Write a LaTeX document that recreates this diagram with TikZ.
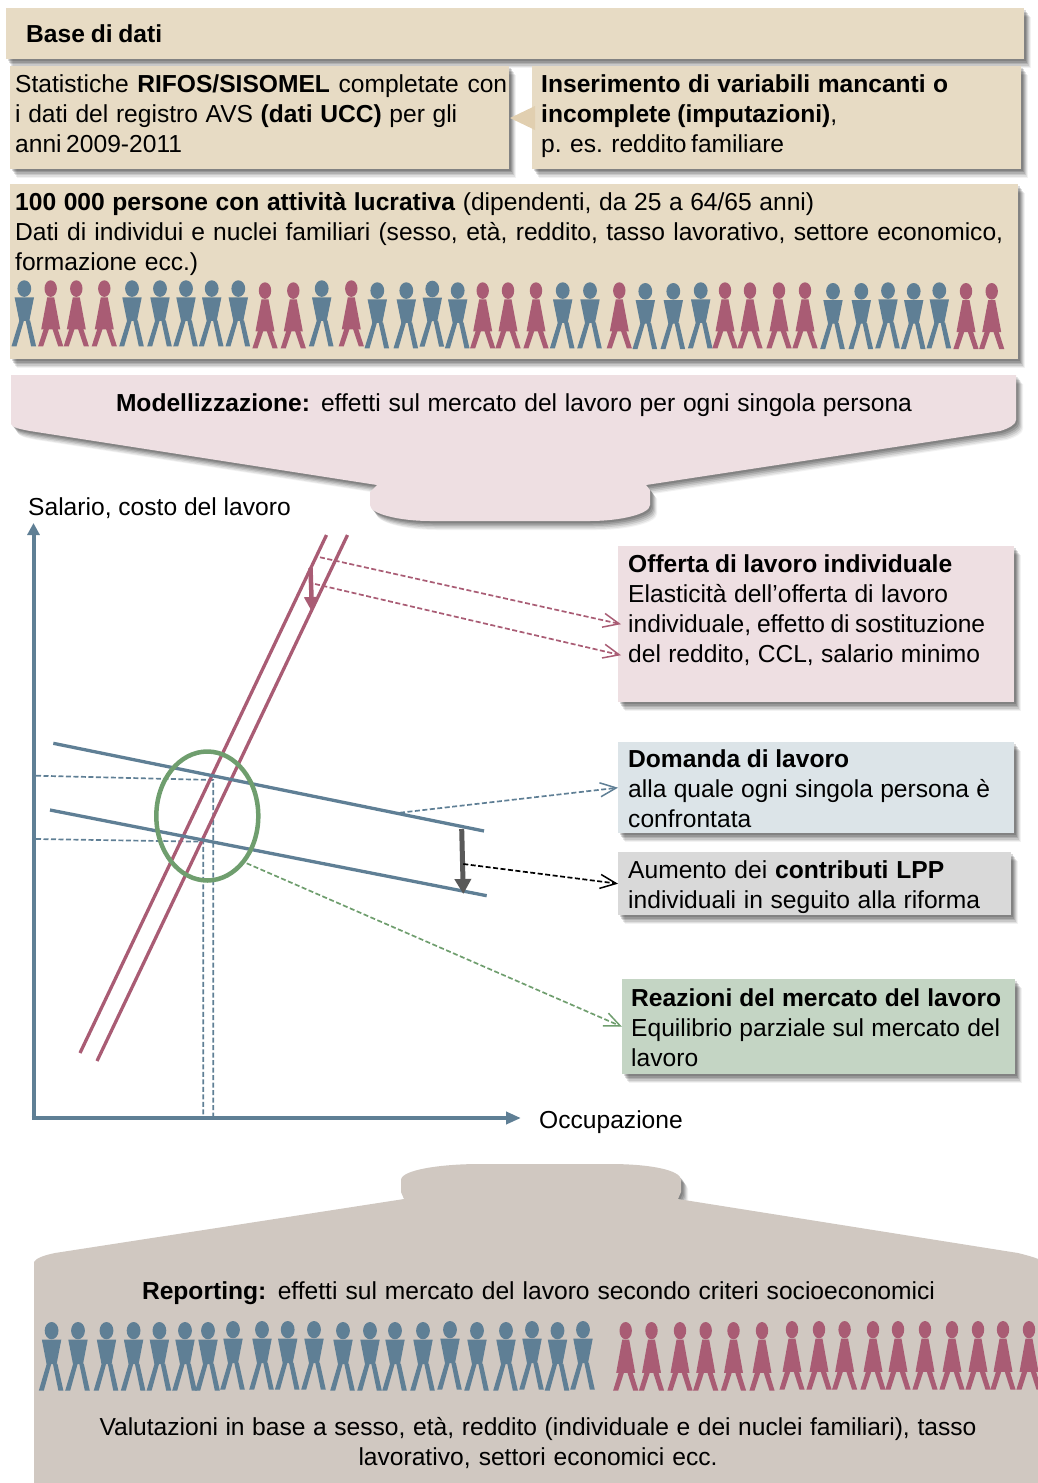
\documentclass[tikz,border=0pt]{standalone}
\usepackage{fontspec}
\setmainfont{Liberation Sans}
\usetikzlibrary{calc,shadows,arrows.meta}
\definecolor{tanfill}{HTML}{E7DBC4}
\definecolor{tandark}{HTML}{E1CFB0}
\definecolor{pinkfill}{HTML}{EEDFE2}
\definecolor{bluefill}{HTML}{DCE4E8}
\definecolor{greyfill}{HTML}{D9D9D9}
\definecolor{greenfill}{HTML}{C4D5C4}
\definecolor{brownfill}{HTML}{D0C8C1}
\definecolor{manblue}{HTML}{5F7F95}
\definecolor{womanred}{HTML}{A95C74}
\definecolor{ringgreen}{HTML}{6F9E6E}
\tikzset{
	softshadow/.style={
		general shadow={shadow xshift=7pt,shadow yshift=-9pt,opacity=.05,fill=black},
		general shadow={shadow xshift=6pt,shadow yshift=-8pt,opacity=.08,fill=black},
		general shadow={shadow xshift=5pt,shadow yshift=-6.5pt,opacity=.10,fill=black},
		general shadow={shadow xshift=4pt,shadow yshift=-5pt,opacity=.12,fill=black},
		general shadow={shadow xshift=3pt,shadow yshift=-3.5pt,opacity=.14,fill=black},
		general shadow={shadow xshift=1.5pt,shadow yshift=-2pt,opacity=.14,fill=black}},
	boxnode/.style={softshadow,anchor=north west,inner sep=0pt},
	txt/.style={anchor=north west,inner sep=0pt,align=left,font=\fontsize{24.6}{30}\selectfont},
	txtc/.style={txt,anchor=center,align=center},
	curve/.style={line width=3.3pt},
	hint/.style={line width=1.7pt,dash pattern=on 5pt off 2.5pt},
	barb/.style={-{Straight Barb[length=16pt,width=14pt,line width=1.5pt]}}
}
% one printed line, set to the width it has in the source
\def\fitline#1#2{\makebox[#1pt][s]{#2}}
\def\manfig(#1,#2)#3{
	\begin{scope}[shift={(#1,#2)},yscale=#3]
		\fill[manblue] (0,8.3) ellipse (6.9 and 8.3);
		\fill[manblue] (-9.7,17) -- (9.7,17) -- (5,40.5) -- (-5,40.5) -- cycle;
		\fill[manblue] (-4.8,40) -- (-0.3,40) -- (-7.8,66) -- (-12.8,66) -- cycle;
		\fill[manblue] (1.3,40) -- (5.8,40) -- (11.8,66) -- (6.8,66) -- cycle;
	\end{scope}
}
\def\womanfig(#1,#2)#3{
	\begin{scope}[shift={(#1,#2)},yscale=#3]
		\fill[womanred] (0,8.3) ellipse (6.2 and 8.3);
		\fill[womanred] (-3.5,17) -- (3.5,17) -- (9.5,49) -- (-9.5,49) -- cycle;
		\fill[womanred] (-6.8,48) -- (-1.5,48) -- (-7.5,66) -- (-12.6,66) -- cycle;
		\fill[womanred] (1.5,48) -- (6.8,48) -- (12.6,66) -- (7.5,66) -- cycle;
	\end{scope}
}

\begin{document}
\begin{tikzpicture}[x=1pt,y=-1pt]
	\useasboundingbox (0,0) rectangle (1037,1483);

	%%%%% top boxes %%%%%
	\node[boxnode,fill=tanfill,minimum width=1018pt,minimum height=51pt] (base) at (6,8) {};
	\node[boxnode,fill=tanfill,minimum width=499pt,minimum height=103pt] (stat) at (10,65.5) {};
	\node[boxnode,fill=tanfill,minimum width=489pt,minimum height=103pt] (impute) at (532,65.5) {};
	\node[boxnode,fill=tanfill,minimum width=1008pt,minimum height=175pt] (people) at (10,184) {};
	\fill[tandark] (510,118) -- (535,106) -- (535,130) -- cycle;

	\node[txt] (baseText) at (26,24.5) {\fitline{136}{\textbf{Base di dati}}};
	\node[txt] (statText) at (15,74.7) {\fitline{492}{Statistiche \textbf{RIFOS/SISOMEL} completate con}\\\fitline{442}{i dati del registro AVS \textbf{(dati UCC)} per gli}\\\fitline{165}{anni 2009-2011}};
	\node[txt] (imputeText) at (541,74.7) {\fitline{407}{\textbf{Inserimento di variabili mancanti o}}\\\fitline{296}{\textbf{incomplete (imputazioni)},}\\\fitline{243}{p. es. reddito familiare}};
	\node[txt] (peopleText) at (15,192.7) {\fitline{799}{\textbf{100 000 persone con attività lucrativa} (dipendenti, da 25 a 64/65 anni)}\\\fitline{988}{Dati di individui e nuclei familiari (sesso, età, reddito, tasso lavorativo, settore economico,}\\\fitline{183}{formazione ecc.)}};

	\foreach \px/\py in {24.3/280.3,132/280.3,160/280.3,186/280.3,211.7/280.3,238.3/280.3,321.7/280.3,377.3/282.3,406.3/282.3,432.3/280.7,457.7/282.3,562.7/282.3,590/282.3,645.3/283,673.3/283,700.7/282.3,833/283,861.3/283,888/282.3,913.7/283,939.3/282.3}
		{\manfig(\px,\py){1}}
	\foreach \px/\py in {50.7/280.3,76.3/280.3,104.3/280.3,265/282.3,293.3/282.3,351.3/280.3,482.7/282.3,508/282.3,536/282.3,619.3/282.3,725/282.3,750/282.3,779/282.3,805/282.3,966/283,991.7/283}
		{\womanfig(\px,\py){1}}

	%%%%% modelling callout %%%%%
	\path[fill=pinkfill,softshadow] (11,375) -- (1016,375) -- (1016,420) .. controls (1016,424) and (1010,428) .. (1000,431) -- (646,485) -- (650,490) -- (650,505) .. controls (650,514) and (620,521) .. (590,521) -- (430,521) .. controls (400,521) and (370,514) .. (370,505) -- (370,492) -- (377,485) -- (30,431) .. controls (20,429) and (13,428) .. (11,424) -- cycle;
	\node[txtc] (modelText) at (514,405.5) {\fitline{796}{\textbf{Modellizzazione:} effetti sul mercato del lavoro per ogni singola persona}};

	%%%%% chart %%%%%
	\node[txt] (wageText) at (28,497) {Salario, costo del lavoro};
	\node[txt] (jobsText) at (539,1110) {Occupazione};
	\coordinate (origin) at (33.5,1118);
	\coordinate (wageEnd) at (33.5,523);
	\coordinate (jobsEnd) at (521,1118);
	\draw[manblue,line width=4pt,-{Triangle[length=12pt,width=12pt]}] (origin) -- (wageEnd);
	\draw[manblue,line width=4pt,-{Triangle[length=15pt,width=12pt]}] ([xshift=-2pt]origin) -- (jobsEnd);

	\coordinate (wageA) at (36,775.7);
	\coordinate (wageB) at (36,839);
	\coordinate (crossA) at (213.3,780);
	\coordinate (crossB) at (203.3,841.7);
	\coordinate (floorA) at (213.3,1116);
	\coordinate (floorB) at (203.3,1116);
	\draw[manblue,hint] (wageA) -- (crossA) -- (floorA);
	\draw[manblue,hint] (wageB) -- (crossB) -- (floorB);

	\draw[womanred,curve] (326.5,535) -- (80,1053);
	\draw[womanred,curve] (347.5,535) -- (97,1061);
	\draw[manblue,curve] (53.3,743.3) -- (484,831);
	\draw[manblue,curve] (50,810) -- (486.7,895.7);
	\draw[ringgreen,line width=4.5pt] (207.3,816) ellipse (51 and 64.5);

	\draw[womanred,line width=4.5pt,-{Triangle[length=15pt,width=14pt]}] (310.5,568) -- (312,612);
	\draw[black!65,line width=5pt,-{Triangle[length=15pt,width=16pt]}] (461.7,829) -- (463.3,894);

	%%%%% note boxes %%%%%
	\node[boxnode,fill=pinkfill,minimum width=396pt,minimum height=156pt] (offer) at (618,546) {};
	\node[boxnode,fill=bluefill,minimum width=396pt,minimum height=91pt] (demand) at (618,742) {};
	\node[boxnode,fill=greyfill,minimum width=393pt,minimum height=63pt] (contrib) at (618,852) {};
	\node[boxnode,fill=greenfill,minimum width=393pt,minimum height=95pt] (reaction) at (622,979) {};

	\node[txt] (offerText) at (628,554.7) {\fitline{324}{\textbf{Offerta di lavoro individuale}}\\\fitline{320}{Elasticità dell’offerta di lavoro}\\\fitline{357}{individuale, effetto di sostituzione}\\\fitline{352}{del reddito, CCL, salario minimo}};
	\node[txt] (demandText) at (628,749.7) {\fitline{221}{\textbf{Domanda di lavoro}}\\\fitline{362}{alla quale ogni singola persona è}\\confrontata};
	\node[txt] (contribText) at (628,860) {\fitline{316}{Aumento dei \textbf{contributi LPP}}\\\fitline{352}{individuali in seguito alla riforma}};
	\node[txt] (reactionText) at (631,988) {\fitline{370}{\textbf{Reazioni del mercato del lavoro}}\\\fitline{369}{Equilibrio parziale sul mercato del}\\lavoro};

	\coordinate (offerFromA) at (320,557.3);
	\coordinate (offerFromB) at (315,584);
	\coordinate (demandFrom) at (400,812.7);
	\coordinate (contribFrom) at (463.3,864);
	\coordinate (reactionFrom) at (246.7,863.3);
	\draw[womanred,hint,barb] (offerFromA) -- ($(offer.west)+(3,0)$);
	\draw[womanred,hint,barb] (offerFromB) -- ($(offer.west)+(3,31)$);
	\draw[manblue,hint,barb] (demandFrom) -- (demand.west);
	\draw[black,hint,barb] (contribFrom) -- (contrib.west);
	\draw[ringgreen,hint,barb] (reactionFrom) -- (reaction.west);

	%%%%% reporting callout %%%%%
	\path[fill=brownfill,softshadow] (34,1490) -- (34,1262) .. controls (36,1258) and (45,1255) .. (55,1253) -- (404,1199) -- (401,1192) -- (401,1180) .. controls (401,1170) and (440,1164) .. (480,1164) -- (610,1164) .. controls (650,1164) and (681,1170) .. (681,1180) -- (681,1192) -- (678,1199) -- (1018,1253) .. controls (1030,1256) and (1037,1258) .. (1045,1262) -- (1045,1490) -- cycle;
	\node[txtc] (reportText) at (538.5,1293) {\fitline{793}{\textbf{Reporting:} effetti sul mercato del lavoro secondo criteri socioeconomici}};

	\foreach \px/\py in {51.6/1322,78/1322,106.5/1322,133.6/1322,159.4/1322,185/1322,208/1322,233/1321,262/1321,287.7/1321,314/1321,343/1322,370/1322,395/1322,423/1322,450/1321,477/1322,506/1322,532/1321,557.5/1322,583/1321}
		{\manfig(\px,\py){1.04}}
	\foreach \px/\py in {625.7/1322,651.5/1322,680/1322,705.7/1322,733.5/1322,762/1322,792/1321,819/1321,844.6/1321,873/1321,898/1321,925/1321,952/1321,978/1321,1003/1321,1029/1321}
		{\womanfig(\px,\py){1.04}}

	\node[txtc] (evalText) at (538,1443) {\fitline{877}{Valutazioni in base a sesso, età, reddito (individuale e dei nuclei familiari), tasso}\\\fitline{359}{lavorativo, settori economici ecc.}};
\end{tikzpicture}
\end{document}
